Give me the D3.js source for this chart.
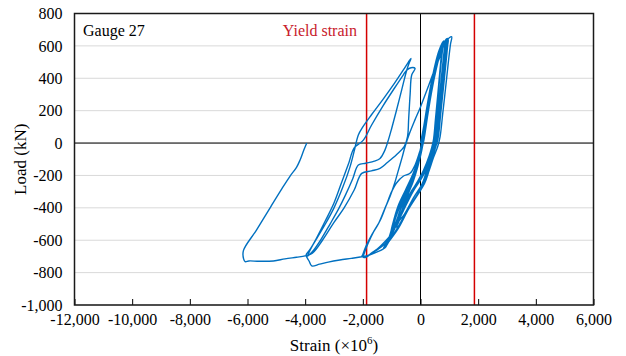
<!DOCTYPE html>
<html>
<head>
<meta charset="utf-8">
<script src="https://cdn.jsdelivr.net/npm/d3@7"></script>
<style>
  body { margin: 0; background: #fff; }
  text { font-family: "Liberation Serif", "Times New Roman", serif; }
</style>
</head>
<body>
<svg id="chart" width="626" height="356"></svg>
<script>
const xTicks = [-12000, -10000, -8000, -6000, -4000, -2000, 0, 2000, 4000, 6000];
const yTicks = [-1000, -800, -600, -400, -200, 0, 200, 400, 600, 800];
const yieldStrain = [-1870, 1870];

// small elastic loops around the origin
const elasticCycles = [
  [0,0],[100,90],[220,220],[360,360],[500,480],[640,570],[800,630],
  [760,570],[690,450],[620,310],[540,160],[470,20],[330,-70],[130,-160],[-80,-230],[-380,-320],[-700,-440],[-980,-545],
  [-880,-500],[-620,-380],[-360,-270],[-160,-180],[-20,-90],[80,0],[200,140],[320,280],[450,400],[580,500],[720,580],[880,640],
  [850,580],[780,460],[700,320],[610,160],[530,10],[420,-60],[280,-150],[120,-240],[-150,-330],[-500,-430],[-900,-560],[-1260,-648],
  [-1160,-625],[-1000,-540],[-800,-430],[-560,-330],[-300,-225],[-100,-110],[40,0],[160,140],[280,280],[410,400],[550,510],[700,590],[930,646],
  [900,600],[830,480],[760,340],[660,170],[580,20],[430,-70],[240,-150],[30,-220],[-260,-300],[-600,-420],[-960,-550],[-1290,-650],
  [-1190,-630],[-1050,-560],[-880,-460],[-640,-350],[-380,-250],[-150,-140],[20,-20],[150,110],[280,250],[420,380],[570,500],[720,590],[860,630],
  [830,570],[760,450],[680,310],[590,150],[510,10],[400,-70],[250,-150],[60,-250],[-250,-340],[-560,-440],[-780,-490],[-830,-520],
  [-740,-470],[-500,-340],[-300,-250],[-130,-160],[0,-70],[90,10],[210,150],[340,290],[470,410],[620,520],[800,610],[1000,650],[1081,656],
  [1040,610],[960,490],[870,340],[770,180],[680,40],[600,-20],[450,-90],[300,-170],[140,-250],[-100,-320],[-420,-410],[-780,-530],[-1230,-640],
  [-1120,-615],[-980,-510],[-780,-390],[-520,-290],[-260,-190],[-60,-90],[70,0],[190,130],[320,270],[460,400],[600,510],[760,600],[900,630],
  [870,580],[800,460],[720,320],[640,170],[560,20],[410,-70],[210,-150],[0,-220],[-300,-300],[-560,-400],[-720,-460],[-780,-500],
  [-700,-460],[-460,-330],[-260,-240],[-100,-150],[30,-50],[120,20],[240,160],[370,300],[500,420],[650,530],[820,610],[960,640],
  [940,600],[880,490],[800,350],[700,180],[610,30],[500,-40],[360,-120],[200,-210],[-50,-300],[-400,-400],[-820,-530],[-1200,-635],
  [-1080,-600],[-900,-520],[-680,-400],[-420,-290],[-180,-180],[0,-80],[100,10],[220,150],[350,290],[480,410],[620,520],[740,594],
  [730,560],[670,440],[600,300],[520,150],[440,10],[300,-80],[100,-170],[-100,-240],[-400,-330],[-720,-460],[-1000,-570],[-1200,-640]
];

// cycles pushed to about -2000 in compression
const cycles2000 = [
  [-1300,-655],[-1500,-672],[-1750,-690],[-1950,-700],[-2038,-702],
  [-2000,-688],[-1900,-640],[-1700,-570],[-1463,-500],[-1250,-410],[-1057,-330],[-900,-250],[-770,-170],[-640,-90],[-537,-23],
  [-380,60],[-200,140],[0,223],[250,340],[480,450],[676,533],[800,600],[870,630],
  [840,580],[770,460],[690,320],[600,160],[510,10],[360,-80],[150,-160],[-60,-230],[-360,-310],[-700,-440],[-1000,-560],
  [-1289,-619],[-1500,-655],[-1700,-680],[-1865,-702],[-1985,-706],
  [-1950,-680],[-1820,-620],[-1620,-545],[-1404,-480],[-1200,-390],[-1000,-300],[-825,-245],[-600,-205],[-364,-187],
  [-200,-140],[-40,-60],[60,0],[180,140],[310,280],[440,400],[580,510],[720,590],[850,620],
  [820,570],[750,450],[670,310],[580,150],[500,10],[350,-80],[150,-160],[-60,-230],[-360,-310],[-680,-430],[-1000,-560],
  [-1250,-625],[-1550,-665],[-1800,-692],[-2038,-702]
];

// cycles pushed to about -4000 in compression
const cycles4000 = [
  [-2400,-712],[-2800,-722],[-3200,-735],[-3500,-748],[-3771,-759],[-3860,-730],[-3968,-691],
  [-3850,-662],[-3600,-590],[-3300,-500],[-3000,-400],[-2700,-275],[-2450,-150],[-2300,-50],[-2156,50],
  [-2000,100],[-1700,175],[-1300,270],[-900,370],[-600,450],[-420,500],[-329,522],
  [-400,490],[-478,450],[-650,330],[-850,190],[-1000,90],[-1116,18],[-1250,-50],[-1404,-95],[-1600,-112],
  [-1900,-125],[-2156,-136],[-2350,-220],[-2600,-320],[-2850,-410],[-3137,-500],[-3450,-595],[-3700,-660],[-3870,-692],[-3920,-698],
  [-3860,-672],[-3600,-585],[-3300,-480],[-3000,-370],[-2750,-250],[-2500,-130],[-2300,-30],[-1982,18],
  [-1700,110],[-1300,230],[-900,340],[-600,420],[-478,450],[-330,465],[-190,461],
  [-305,420],[-360,300],[-410,150],[-450,40],[-560,-20],[-825,-70],[-1150,-120],[-1404,-156],[-1700,-172],[-2038,-187],
  [-2300,-290],[-2650,-400],[-3000,-490],[-3400,-600],[-3750,-680],[-4003,-697]
];

// last push to about -6000 and unloading
const finalCycle = [
  [-4300,-705],[-4700,-715],[-5100,-728],[-5600,-730],[-5950,-728],[-6083,-732],[-6135,-715],[-6142,-664],
  [-5700,-540],[-5200,-395],[-4800,-280],[-4523,-204],[-4300,-150],[-4177,-105],[-4050,-45],[-3944,0]
];

const record = elasticCycles.concat(cycles2000, cycles4000, finalCycle);

const plot = { left: 74.5, right: 593.5, top: 13.5, bottom: 305 };

const svg = d3.select("#chart");

const x = d3.scaleLinear().domain([-12000, 6000]).range([plot.left, plot.right]);
const y = d3.scaleLinear().domain([-1000, 800]).range([plot.bottom, plot.top]);

const fmt = d3.formatLocale({ decimal: ".", thousands: ",", grouping: [3], currency: ["", ""], minus: "-" }).format(",");

// gridlines
svg.append("g")
  .selectAll("line")
  .data(yTicks)
  .enter()
  .append("line")
  .attr("x1", plot.left)
  .attr("x2", plot.right)
  .attr("y1", d => y(d))
  .attr("y2", d => y(d))
  .attr("stroke", "#d9d9d9")
  .attr("stroke-width", 1);

// zero lines
svg.append("line")
  .attr("x1", plot.left).attr("x2", plot.right)
  .attr("y1", y(0)).attr("y2", y(0))
  .attr("stroke", "#000").attr("stroke-width", 1);
svg.append("line")
  .attr("x1", x(0)).attr("x2", x(0))
  .attr("y1", plot.top).attr("y2", plot.bottom)
  .attr("stroke", "#000").attr("stroke-width", 1);

// yield strain lines
svg.append("g")
  .selectAll("line")
  .data(yieldStrain)
  .enter()
  .append("line")
  .attr("x1", d => x(d))
  .attr("x2", d => x(d))
  .attr("y1", plot.top)
  .attr("y2", plot.bottom)
  .attr("stroke", "#d40000")
  .attr("stroke-width", 1.5);

// load-strain record
const line = d3.line()
  .x(d => x(d[0]))
  .y(d => y(d[1]))
  .curve(d3.curveCatmullRom.alpha(0.5));

svg.append("path")
  .datum(record)
  .attr("d", line)
  .attr("fill", "none")
  .attr("stroke", "#0070c0")
  .attr("stroke-width", 1.4)
  .attr("stroke-linejoin", "round");

// axes
const xAxis = d3.axisBottom(x).tickValues(xTicks).tickFormat(fmt).tickSizeInner(-6).tickSizeOuter(0).tickPadding(9);
const gx = svg.append("g")
  .attr("transform", `translate(0, ${plot.bottom})`)
  .call(xAxis);
gx.select(".domain").remove();
gx.selectAll("line").attr("stroke", "#000");
gx.selectAll("text").attr("font-size", 16).attr("fill", "#000")
  .style("font-family", "'Liberation Serif', 'Times New Roman', serif");

const yAxis = d3.axisLeft(y).tickValues(yTicks).tickFormat(fmt).tickSize(0).tickPadding(12);
const gy = svg.append("g")
  .attr("transform", `translate(${plot.left}, 0)`)
  .call(yAxis);
gy.select(".domain").remove();
gy.selectAll("text").attr("font-size", 16).attr("fill", "#000")
  .style("font-family", "'Liberation Serif', 'Times New Roman', serif");

// plot border
svg.append("rect")
  .attr("x", plot.left)
  .attr("y", plot.top)
  .attr("width", plot.right - plot.left)
  .attr("height", plot.bottom - plot.top)
  .attr("fill", "none")
  .attr("stroke", "#1a1a1a")
  .attr("stroke-width", 1.5);

// labels
svg.append("text")
  .text("Gauge 27")
  .attr("x", 83)
  .attr("y", 36)
  .attr("font-size", 16)
  .attr("fill", "#000");

svg.append("text")
  .text("Yield strain")
  .attr("x", 357)
  .attr("y", 36)
  .attr("text-anchor", "end")
  .attr("font-size", 16)
  .attr("fill", "#c8202c");

const xl = svg.append("text")
  .attr("x", (plot.left + plot.right) / 2)
  .attr("y", 351)
  .attr("text-anchor", "middle")
  .attr("font-size", 17)
  .attr("fill", "#000");
xl.append("tspan").text("Strain (×10");
xl.append("tspan").text("6").attr("font-size", 11).attr("dy", -7);
xl.append("tspan").text(")").attr("dy", 7);

svg.append("text")
  .text("Load (kN)")
  .attr("transform", `translate(26, ${(plot.top + plot.bottom) / 2}) rotate(-90)`)
  .attr("text-anchor", "middle")
  .attr("font-size", 17)
  .attr("fill", "#000");
</script>
</body>
</html>
